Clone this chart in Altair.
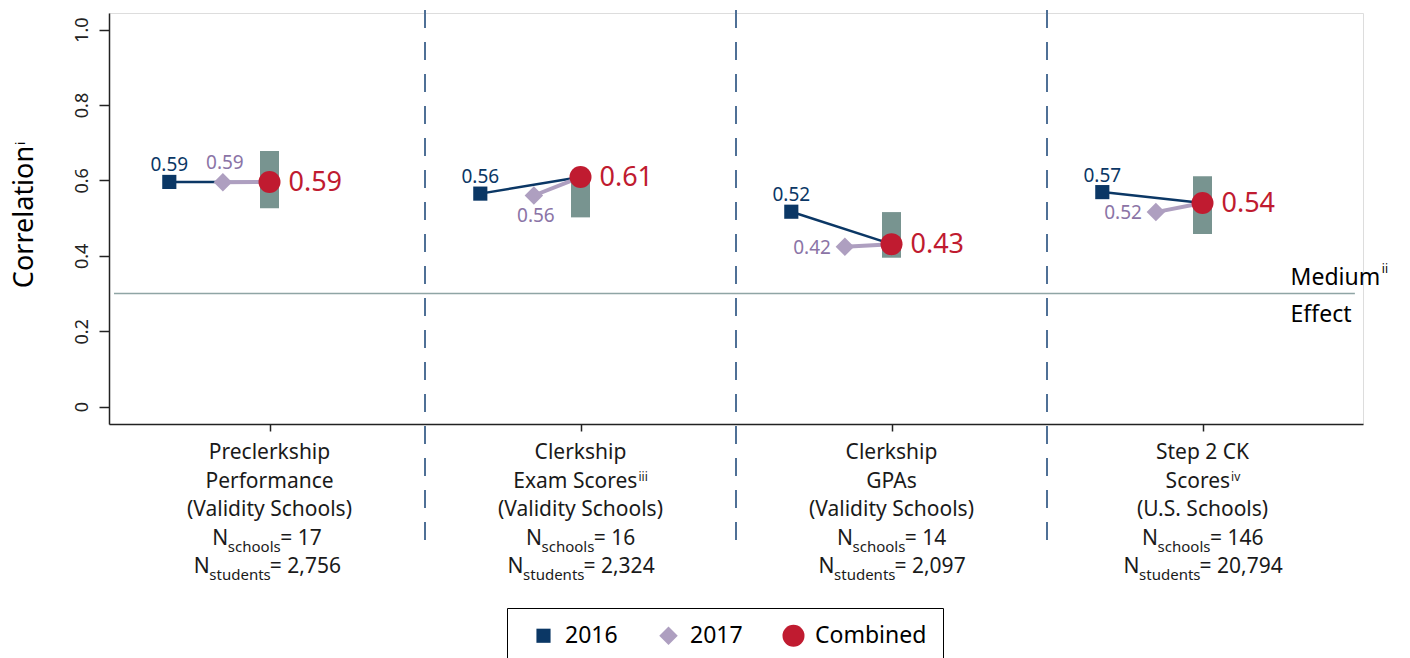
import altair as alt
import pandas as pd

FONT = "Noto Sans"
NAVY = "#0b3765"
LAV = "#ae9fc0"
LAV_TXT = "#8b74a6"
RED = "#c01b30"
BAR = "#789490"
DASH = "#4f7096"
MED = "#8fa5a5"
INK = "#1a1a1a"

# ---------------- data ----------------
categories = ["Preclerkship Performance", "Clerkship Exam Scores", "Clerkship GPAs", "Step 2 CK Scores"]
line1 = ["Preclerkship", "Clerkship", "Clerkship", "Step 2 CK"]
line2 = ["Performance", "Exam Scores", "GPAs", "Scores"]
line2_sup = ["", "iii", "", "iv"]
line3 = ["(Validity Schools)", "(Validity Schools)", "(Validity Schools)", "(U.S. Schools)"]
n_schools = ["17", "16", "14", "146"]
n_students = ["2,756", "2,324", "2,097", "20,794"]
eq_sep = [" = ", "= ", "= ", "= "]

series = ["2016", "2017", "Combined"]
r2016 = [0.596, 0.565, 0.517, 0.569]
r2017 = [0.595, 0.560, 0.424, 0.516]
rcomb = [0.596, 0.609, 0.431, 0.540]
lab2016 = ["0.59", "0.56", "0.52", "0.57"]
lab2017 = ["0.59", "0.56", "0.42", "0.52"]
labcomb = ["0.59", "0.61", "0.43", "0.54"]
range_low = [0.526, 0.502, 0.395, 0.458]
range_high = [0.678, 0.620, 0.516, 0.611]
pos2017 = ["above", "below", "left", "left"]

y_ticks = [0, 0.2, 0.4, 0.6, 0.8, 1.0]
medium_effect = 0.3

# ---------------- layout ----------------
W, H = 1254, 411
BAND_PX = W / 4
OFF16 = -101 / BAND_PX
OFF17 = -47 / BAND_PX

CW = {'N': 0.748, 's': 0.478, 'c': 0.479, 'h': 0.614, 'o': 0.604, 'l': 0.259, 't': 0.352,
      'u': 0.614, 'd': 0.613, 'e': 0.561, 'n': 0.614, ' ': 0.26, '=': 0.572, ',': 0.242,
      'E': 0.556, 'x': 0.524, 'a': 0.556, 'm': 0.931, 'S': 0.549, 'r': 0.411, 'G': 0.698,
      'P': 0.603, 'A': 0.633, 'i': 0.258, 'v': 0.5, 'M': 0.907, 'C': 0.632, 'f': 0.34}


def tw(s, size):
    return sum(CW.get(ch, 0.572) for ch in s) * size


LBL = 21     # category label font
SUB = 15     # subscript font
SUP = 12     # superscript font
ROWS = [446, 474.5, 503, 532, 560]

centers = [i + 0.5 for i in range(4)]
wide = pd.DataFrame({
    "cat": categories, "c": centers,
    "x16": [c + OFF16 for c in centers], "x17": [c + OFF17 for c in centers],
    "r16": r2016, "r17": r2017, "rc": rcomb, "lo": range_low, "hi": range_high,
    "lab16": lab2016, "lab17": lab2017, "labc": labcomb, "pos17": pos2017,
    "l1": line1, "l2": line2, "sup": line2_sup, "l3": line3,
})
wide["l2_right"] = [c + ((tw(m, LBL) - tw(s, SUP)) / 2) / BAND_PX for c, m, s in zip(centers, line2, line2_sup)]

nrows = []
for i, c in enumerate(centers):
    for k, (sub, val) in enumerate([("schools", n_schools[i]), ("students", n_students[i])]):
        rest = eq_sep[i] + val
        total = tw("N", LBL) + tw(sub, SUB) + tw(rest, LBL)
        start = -total / 2
        nrows.append(dict(row=k, xN=c + start / BAND_PX,
                          xs=c + (start + tw("N", LBL)) / BAND_PX,
                          xe=c + (start + tw("N", LBL) + tw(sub, SUB)) / BAND_PX,
                          sub=sub, rest=rest))
ndf = pd.DataFrame(nrows)

pts = []
for i, c in enumerate(centers):
    pts.append(dict(series=series[0], x=c + OFF16, r=r2016[i]))
    pts.append(dict(series=series[1], x=c + OFF17, r=r2017[i]))
    pts.append(dict(series=series[2], x=c, r=rcomb[i]))
pts = pd.DataFrame(pts)

XSC = alt.Scale(domain=[0, 4], nice=False, zero=False)
YSC = alt.Scale(domain=[-0.046, 1.044], nice=False, zero=False)
XAX = alt.Axis(values=centers, labels=False, tickSize=7, tickColor="#222", domainColor="#222",
               domainWidth=1.5, tickWidth=1.5, grid=False, title=None)
YAX = alt.Axis(values=y_ticks, labelExpr="datum.value == 0 ? '0' : format(datum.value, '.1f')",
               labelAngle=270, labelAlign="center", labelBaseline="alphabetic", labelFont=FONT,
               labelFontSize=18, labelColor="#222", labelPadding=12, tickSize=10, tickColor="#222",
               tickWidth=1.5, domainColor="#222", domainWidth=1.5, grid=False, title=None)


def X(f):
    return alt.X(f, type="quantitative", scale=XSC, axis=XAX)


def Y(f):
    return alt.Y(f, type="quantitative", scale=YSC, axis=YAX)


LEG = alt.Legend(orient="none", legendX=398, legendY=595, direction="horizontal", title=None,
                 labelFont=FONT, labelFontSize=23, labelColor="black", columnPadding=30,
                 padding=16, symbolOffset=9, strokeColor="black", fillColor="white",
                 symbolStrokeWidth=0, labelOffset=10, symbolOpacity=1)

bars = alt.Chart(wide).mark_bar(size=19, color=BAR).encode(x=X("c"), y=Y("lo"), y2="hi")

dividers = alt.Chart(pd.DataFrame({"d": [1, 2, 3]})).mark_rule(
    color=DASH, strokeWidth=2, strokeDash=[18, 14]).encode(x=X("d"), y=alt.value(-3), y2=alt.value(530))

medium = alt.Chart(pd.DataFrame({"y": [medium_effect], "x0": [0], "x1": [3.99]})).mark_rule(
    color=MED, strokeWidth=1.5).encode(x=X("x0"), x2="x1", y=Y("y"))

line16 = alt.Chart(wide).mark_rule(color=NAVY, strokeWidth=2.5).encode(
    x=X("x16"), x2="c", y=Y("r16"), y2="rc")
line17 = alt.Chart(wide).mark_rule(color=LAV, strokeWidth=4).encode(
    x=X("x17"), x2="c", y=Y("r17"), y2="rc")

points = alt.Chart(pts).mark_point(filled=True, opacity=1, strokeWidth=0).encode(
    x=X("x"), y=Y("r"),
    color=alt.Color("series:N", scale=alt.Scale(domain=series, range=[NAVY, LAV, RED]), legend=LEG),
    shape=alt.Shape("series:N", scale=alt.Scale(domain=series, range=["square", "diamond", "circle"]), legend=LEG),
    size=alt.Size("series:N", scale=alt.Scale(domain=series, range=[200, 484, 707]), legend=LEG),
)

t16 = alt.Chart(wide).mark_text(font=FONT, fontSize=19, color=NAVY, dy=-10.5, baseline="alphabetic").encode(
    x=X("x16"), y=Y("r16"), text="lab16")
t17a = alt.Chart(wide).transform_filter("datum.pos17 == 'above'").mark_text(
    font=FONT, fontSize=19, color=LAV_TXT, dx=2, dy=-13.5, baseline="alphabetic").encode(
    x=X("x17"), y=Y("r17"), text="lab17")
t17b = alt.Chart(wide).transform_filter("datum.pos17 == 'below'").mark_text(
    font=FONT, fontSize=19, color=LAV_TXT, dx=2, dy=27, baseline="alphabetic").encode(
    x=X("x17"), y=Y("r17"), text="lab17")
t17l = alt.Chart(wide).transform_filter("datum.pos17 == 'left'").mark_text(
    font=FONT, fontSize=19, color=LAV_TXT, dx=-14, dy=1, align="right", baseline="middle").encode(
    x=X("x17"), y=Y("r17"), text="lab17")
tc = alt.Chart(wide).mark_text(font=FONT, fontSize=27, color=RED, dx=19, dy=1, align="left",
                               baseline="middle").encode(x=X("c"), y=Y("rc"), text="labc")

base_txt = dict(font=FONT, color=INK, baseline="alphabetic")
c1 = alt.Chart(wide).mark_text(fontSize=LBL, **base_txt).encode(x=X("c"), y=alt.value(ROWS[0]), text="l1")
c2a = alt.Chart(wide).transform_filter("datum.sup == ''").mark_text(fontSize=LBL, **base_txt).encode(
    x=X("c"), y=alt.value(ROWS[1]), text="l2")
c2b = alt.Chart(wide).transform_filter("datum.sup != ''").mark_text(fontSize=LBL, align="right", **base_txt).encode(
    x=X("l2_right"), y=alt.value(ROWS[1]), text="l2")
c2s = alt.Chart(wide).transform_filter("datum.sup != ''").mark_text(fontSize=SUP, align="left", dx=1, **base_txt).encode(
    x=X("l2_right"), y=alt.value(ROWS[1] - 7), text="sup")
c3 = alt.Chart(wide).mark_text(fontSize=LBL, **base_txt).encode(x=X("c"), y=alt.value(ROWS[2]), text="l3")

nlayers = []
for k in range(2):
    d = ndf[ndf["row"] == k]
    yb = ROWS[3 + k]
    nlayers.append(alt.Chart(d).mark_text(fontSize=LBL, align="left", **base_txt).encode(
        x=X("xN"), y=alt.value(yb), text=alt.value("N")))
    nlayers.append(alt.Chart(d).mark_text(fontSize=SUB, align="left", **base_txt).encode(
        x=X("xs"), y=alt.value(yb + 7), text="sub"))
    nlayers.append(alt.Chart(d).mark_text(fontSize=LBL, align="left", **base_txt).encode(
        x=X("xe"), y=alt.value(yb), text="rest"))

ytitle = alt.Chart(pd.DataFrame({"t": ["Correlation"]})).mark_text(
    font=FONT, fontSize=27, color="black", angle=270, align="center", baseline="alphabetic").encode(
    x=alt.value(-76), y=alt.value(204), text="t")
ytitle_sup = alt.Chart(pd.DataFrame({"t": ["i"]})).mark_text(
    font=FONT, fontSize=13, color="black", angle=270, align="left", baseline="alphabetic").encode(
    x=alt.value(-84), y=alt.value(204 - tw("Correlation", 27) / 2 - 1), text="t")

MED_X = (1295 - 109) / BAND_PX
anno = pd.DataFrame({"x": [MED_X], "y": [medium_effect]})
med_t = alt.Chart(anno).mark_text(font=FONT, fontSize=23, color="black", align="left", baseline="alphabetic",
                                  dy=-9).encode(x=X("x"), y=Y("y"), text=alt.value("Medium"))
med_s = alt.Chart(anno).mark_text(font=FONT, fontSize=12, color="black", align="left", baseline="alphabetic",
                                  dy=-21, dx=tw("Medium", 23) + 2).encode(x=X("x"), y=Y("y"), text=alt.value("ii"))
eff_t = alt.Chart(anno).mark_text(font=FONT, fontSize=23, color="black", align="left", baseline="alphabetic",
                                  dy=28).encode(x=X("x"), y=Y("y"), text=alt.value("Effect"))

chart = alt.layer(
    bars, dividers, medium, line16, line17, points, t16, t17a, t17b, t17l, tc,
    c1, c2a, c2b, c2s, c3, *nlayers, ytitle, ytitle_sup, med_t, med_s, eff_t
).properties(
    width=W, height=H,
    autosize=alt.AutoSizeParams(type="none"),
    padding={"left": 109, "top": 13, "right": 47, "bottom": 234},
).configure_view(stroke=None).configure(background="white")

chart.save("out.html", embed_options={"renderer": "svg", "actions": False})
